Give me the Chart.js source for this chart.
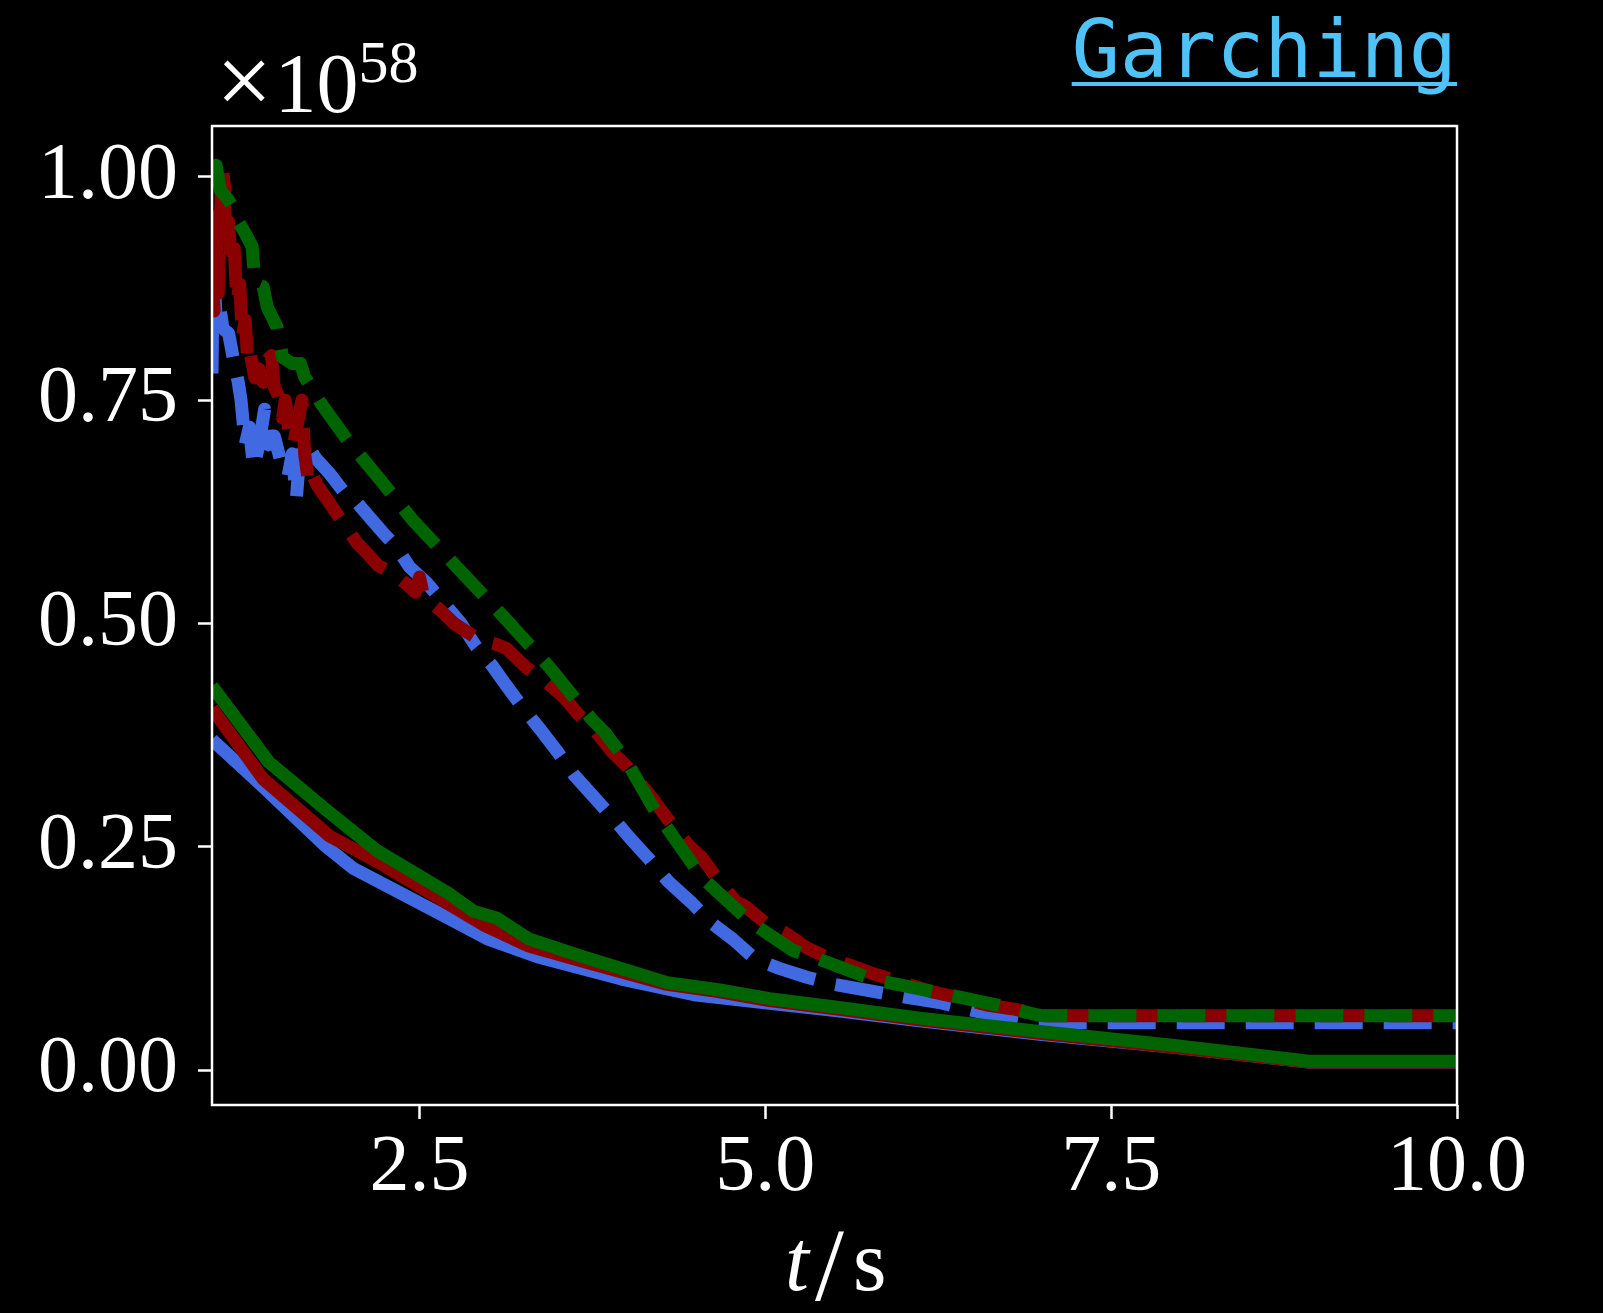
<!DOCTYPE html>
<html>
<head>
<meta charset="utf-8">
<title>Garching</title>
<script src="https://cdn.jsdelivr.net/npm/chart.js@4.4.0/dist/chart.umd.min.js"></script>
<style>
    html, body { margin: 0; padding: 0; background: #000; }
    #wrap { position: relative; width: 1603px; height: 1313px; }
</style>
</head>
<body>
<div id="wrap"><canvas id="chart" width="1603" height="1313"></canvas></div>
<script>
// Axis setup
const X_MIN = 1.0;
const X_MAX = 10.0;
const Y_MIN = -0.039;
const Y_MAX = 1.057;
const X_TICKS = [2.5, 5.0, 7.5, 10.0];
const Y_TICKS = [0.0, 0.25, 0.5, 0.75, 1.0];

// Labels
const TITLE = 'Garching';
const X_LABEL_T = 't';
const X_LABEL_SLASH = '/';
const X_LABEL_UNIT = 's';
const Y_EXP_TIMES = '×';
const Y_EXP_BASE = '10';
const Y_EXP_POWER = '58';

// Solid lines (t in s, value in units of 1e58)
const blueSolidT = [1.0, 1.35, 1.82, 2.02, 2.71, 2.99, 3.35, 3.96, 4.5, 5.03, 5.49, 6.13, 7.0, 7.94, 8.93, 10.0];
const blueSolidV = [0.37, 0.32, 0.251, 0.226, 0.17, 0.147, 0.127, 0.102, 0.084, 0.075, 0.067, 0.055, 0.040, 0.026, 0.009, 0.009];

const redSolidT = [1.0, 1.37, 1.85, 2.19, 2.71, 2.97, 3.29, 3.68, 4.29, 4.66, 5.03, 5.49, 6.13, 7.0, 7.94, 8.93, 10.0];
const redSolidV = [0.405, 0.326, 0.262, 0.234, 0.186, 0.162, 0.139, 0.122, 0.096, 0.088, 0.078, 0.069, 0.056, 0.041, 0.026, 0.009, 0.009];

const greenSolidT = [1.0, 1.41, 1.82, 2.19, 2.71, 2.89, 3.06, 3.29, 3.68, 4.29, 4.66, 5.03, 5.49, 6.13, 7.0, 7.94, 8.93, 10.0];
const greenSolidV = [0.43, 0.345, 0.292, 0.246, 0.198, 0.178, 0.170, 0.147, 0.127, 0.098, 0.090, 0.080, 0.071, 0.058, 0.043, 0.028, 0.010, 0.010];

// Dashed lines
const blueDashT = [1.0, 1.01, 1.03, 1.05, 1.08, 1.12, 1.15, 1.19, 1.21, 1.24, 1.27, 1.30, 1.34, 1.38, 1.41, 1.45, 1.50, 1.55, 1.58, 1.61, 1.64, 1.68, 1.75, 1.85, 1.95, 2.05, 2.15, 2.24, 2.33, 2.43, 2.55, 2.68, 2.80, 2.91, 3.02, 3.13, 3.25, 3.37, 3.50, 3.62, 3.76, 3.90, 4.02, 4.15, 4.30, 4.47, 4.60, 4.77, 4.90, 5.0, 5.10, 5.30, 5.50, 5.75, 6.0, 6.28, 6.50, 6.69, 6.96, 7.0, 10.0];
const blueDashV = [0.78, 0.91, 0.84, 0.86, 0.83, 0.825, 0.80, 0.77, 0.75, 0.70, 0.72, 0.675, 0.70, 0.74, 0.70, 0.71, 0.68, 0.665, 0.69, 0.64, 0.70, 0.702, 0.685, 0.668, 0.648, 0.635, 0.617, 0.601, 0.586, 0.563, 0.546, 0.522, 0.50, 0.474, 0.454, 0.43, 0.405, 0.382, 0.356, 0.33, 0.306, 0.282, 0.26, 0.238, 0.211, 0.187, 0.166, 0.146, 0.128, 0.12, 0.114, 0.104, 0.096, 0.089, 0.082, 0.075, 0.067, 0.060, 0.053, 0.053, 0.053];

const redDashT = [1.0, 1.015, 1.03, 1.045, 1.06, 1.075, 1.09, 1.10, 1.12, 1.14, 1.16, 1.18, 1.20, 1.22, 1.24, 1.26, 1.28, 1.31, 1.34, 1.37, 1.40, 1.43, 1.45, 1.48, 1.51, 1.53, 1.56, 1.59, 1.62, 1.65, 1.67, 1.70, 1.73, 1.76, 1.85, 1.95, 2.05, 2.12, 2.20, 2.31, 2.40, 2.47, 2.50, 2.53, 2.65, 2.75, 2.85, 2.94, 3.05, 3.13, 3.27, 3.40, 3.54, 3.65, 3.76, 3.90, 4.0, 4.18, 4.30, 4.45, 4.54, 4.65, 4.79, 4.85, 5.0, 5.14, 5.30, 5.45, 5.60, 5.80, 6.01, 6.20, 6.43, 6.60, 6.81, 7.0, 10.0];
const redDashV = [0.90, 0.85, 0.955, 0.87, 0.95, 1.01, 0.99, 0.93, 0.95, 0.90, 0.92, 0.86, 0.88, 0.82, 0.84, 0.79, 0.80, 0.775, 0.785, 0.77, 0.795, 0.80, 0.765, 0.755, 0.73, 0.75, 0.71, 0.70, 0.725, 0.75, 0.69, 0.655, 0.665, 0.655, 0.635, 0.612, 0.59, 0.579, 0.565, 0.556, 0.545, 0.535, 0.552, 0.53, 0.515, 0.50, 0.49, 0.481, 0.477, 0.472, 0.451, 0.437, 0.418, 0.398, 0.382, 0.355, 0.34, 0.305, 0.28, 0.251, 0.238, 0.215, 0.188, 0.184, 0.165, 0.154, 0.137, 0.126, 0.118, 0.107, 0.097, 0.088, 0.080, 0.073, 0.068, 0.061, 0.061];

const greenDashT = [1.0, 1.03, 1.06, 1.12, 1.17, 1.19, 1.24, 1.29, 1.31, 1.37, 1.40, 1.47, 1.51, 1.58, 1.64, 1.67, 1.79, 1.98, 2.20, 2.45, 2.79, 3.13, 3.44, 3.75, 3.84, 4.0, 4.2, 4.54, 4.89, 5.2, 5.34, 5.79, 6.28, 6.73, 6.96, 7.0, 10.0];
const greenDashV = [1.01, 1.013, 0.985, 0.974, 0.961, 0.95, 0.937, 0.922, 0.881, 0.877, 0.854, 0.832, 0.798, 0.791, 0.791, 0.776, 0.746, 0.705, 0.664, 0.616, 0.56, 0.504, 0.451, 0.392, 0.378, 0.345, 0.291, 0.216, 0.166, 0.134, 0.127, 0.101, 0.086, 0.071, 0.062, 0.061, 0.061];

// Colours
const BLUE = '#4169e1';
const RED = '#8b0000';
const GREEN = '#006400';
const TITLE_COLOR = '#4fc3f7';
const DASH = [48, 21];
const LINE_WIDTH = 13;
const SERIF = '"Liberation Serif"';

function toPoints(ts, vs) {
    return ts.map((t, i) => ({ x: t, y: vs[i] }));
}

function lineDataset(ts, vs, color, dashed, order) {
    return {
        data: toPoints(ts, vs),
        borderColor: color,
        backgroundColor: color,
        borderWidth: LINE_WIDTH,
        borderDash: dashed ? DASH : [],
        borderCapStyle: 'butt',
        borderJoinStyle: 'round',
        pointRadius: 0,
        tension: 0,
        fill: false,
        clip: 0,
        order: order
    };
}

// Frame, title, exponent and axis label
const annotations = {
    id: 'annotations',
    afterDraw(chart) {
        const ctx = chart.ctx;
        const area = chart.chartArea;
        ctx.save();

        ctx.strokeStyle = '#ffffff';
        ctx.lineWidth = 2.5;
        ctx.strokeRect(area.left, area.top, area.right - area.left, area.bottom - area.top);

        // Title, underlined, right aligned to the frame
        ctx.font = '80px "DejaVu Sans Mono"';
        ctx.fillStyle = TITLE_COLOR;
        ctx.textAlign = 'right';
        ctx.textBaseline = 'alphabetic';
        ctx.fillText(TITLE, area.right, 77);
        const tw = ctx.measureText(TITLE).width;
        ctx.fillRect(area.right - tw, 82, tw, 4);

        // Offset text of the y axis
        ctx.fillStyle = '#ffffff';
        ctx.textAlign = 'left';
        ctx.font = '100px ' + SERIF;
        ctx.fillText(Y_EXP_TIMES, 216, 114);
        const xw = ctx.measureText(Y_EXP_TIMES).width;
        ctx.font = '84px ' + SERIF;
        ctx.fillText(Y_EXP_BASE, 216 + xw + 2, 112);
        const bw = ctx.measureText(Y_EXP_BASE).width;
        ctx.font = '60px ' + SERIF;
        ctx.fillText(Y_EXP_POWER, 216 + xw + 2 + bw, 82);

        // x label: italic t, upright /s
        ctx.font = 'italic 86px ' + SERIF;
        ctx.fillText(X_LABEL_T, 785, 1290);
        ctx.font = '104px ' + SERIF;
        ctx.fillText(X_LABEL_SLASH, 815, 1300);
        ctx.font = '86px ' + SERIF;
        ctx.fillText(X_LABEL_UNIT, 853, 1290);

        ctx.restore();
    }
};

const tickFont = { family: 'Liberation Serif', size: 80 };

const ctx = document.getElementById('chart').getContext('2d');
const chart = new Chart(ctx, {
    type: 'line',
    data: {
        datasets: [
            lineDataset(blueSolidT, blueSolidV, BLUE, false, 6),
            lineDataset(blueDashT, blueDashV, BLUE, true, 5),
            lineDataset(redSolidT, redSolidV, RED, false, 4),
            lineDataset(redDashT, redDashV, RED, true, 3),
            lineDataset(greenSolidT, greenSolidV, GREEN, false, 2),
            lineDataset(greenDashT, greenDashV, GREEN, true, 1)
        ]
    },
    options: {
        responsive: false,
        animation: false,
        devicePixelRatio: 1,
        layout: {
            padding: { left: 0, right: 146, top: 126, bottom: 0 }
        },
        plugins: {
            legend: { display: false },
            tooltip: { enabled: false }
        },
        scales: {
            x: {
                type: 'linear',
                min: X_MIN,
                max: X_MAX,
                afterBuildTicks: (scale) => { scale.ticks = X_TICKS.map(v => ({ value: v })); },
                afterFit: (scale) => { scale.height = 1313 - 1105; },
                border: { display: false },
                grid: {
                    drawOnChartArea: false,
                    drawTicks: true,
                    tickLength: 14,
                    tickColor: '#ffffff',
                    tickWidth: 2.5,
                    color: '#ffffff'
                },
                ticks: {
                    color: '#ffffff',
                    font: tickFont,
                    padding: 2,
                    autoSkip: false,
                    maxRotation: 0,
                    callback: (v) => Number(v).toFixed(1)
                }
            },
            y: {
                type: 'linear',
                min: Y_MIN,
                max: Y_MAX,
                afterBuildTicks: (scale) => { scale.ticks = Y_TICKS.map(v => ({ value: v })); },
                afterFit: (scale) => { scale.width = 212; },
                border: { display: false },
                grid: {
                    drawOnChartArea: false,
                    drawTicks: true,
                    tickLength: 14,
                    tickColor: '#ffffff',
                    tickWidth: 2.5,
                    color: '#ffffff'
                },
                ticks: {
                    color: '#ffffff',
                    font: tickFont,
                    padding: 20,
                    autoSkip: false,
                    callback: (v) => Number(v).toFixed(2)
                }
            }
        }
    },
    plugins: [annotations]
});
</script>
</body>
</html>
